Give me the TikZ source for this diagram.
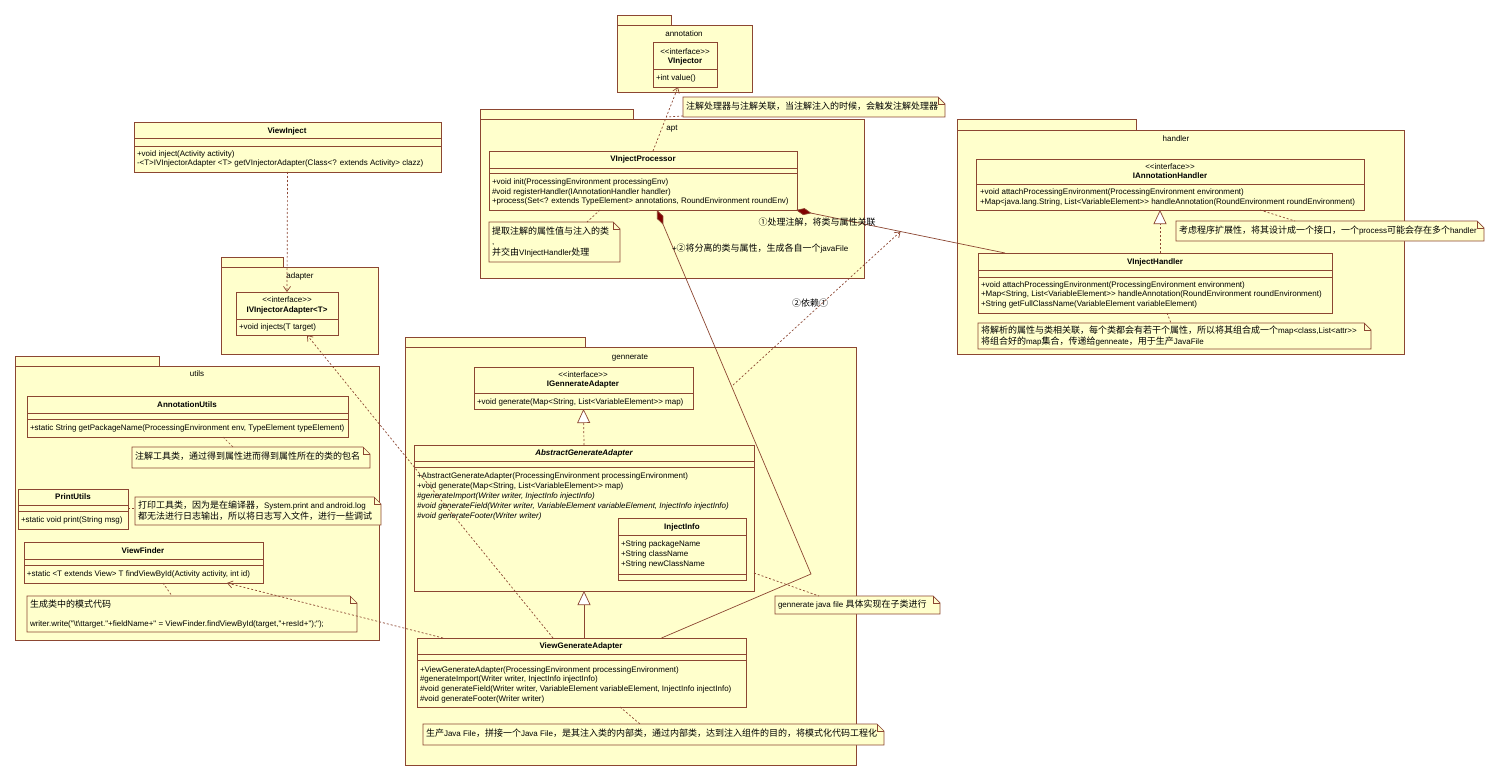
\documentclass[tikz,border=0pt]{standalone}
\usepackage{fontspec}
\newfontfamily\lsans{Liberation Sans}
\newfontfamily\cjk{Noto Sans CJK SC}
\usetikzlibrary{arrows.meta}
\definecolor{fc}{RGB}{255,255,204}
\definecolor{lc}{RGB}{140,70,50}
\definecolor{dc}{RGB}{128,0,0}
\newcommand\zh[1]{{\cjk\fontsize{9.0pt}{10pt}\selectfont #1}}
\newcommand\lfont{\lsans\fontsize{8.0pt}{9pt}\selectfont}
\tikzset{
 ln/.style={draw=lc, line width=0.7pt},
 cls/.style={ln, fill=fc, anchor=north west, inner sep=0pt, outer sep=0pt},
 txt/.style={inner sep=0pt, outer sep=0pt, anchor=west, font=\lfont, text height=6pt, text depth=1.5pt},
 ctr/.style={txt, anchor=center},
 ttl/.style={txt, anchor=center, font=\lfont\bfseries},
 ttli/.style={txt, anchor=center, font=\lfont\bfseries\itshape},
 itl/.style={txt, font=\lfont\itshape},
 dep/.style={ln, dash pattern=on 2pt off 2pt, -{Straight Barb[length=5pt,width=7pt]}},
 real/.style={ln, dash pattern=on 2pt off 2pt, -{Triangle[open,length=14pt,width=13pt,fill=white]}},
 gen/.style={ln, -{Triangle[open,length=14pt,width=13pt,fill=white]}},
 comp/.style={ln, {Diamond[length=16pt,width=7pt,fill=dc]}-},
 anc/.style={ln, dash pattern=on 2pt off 2pt},
}
\newcommand\klass[5]{\node[cls, minimum width={(#4-#2)*1pt}, minimum height={(#5-#3)*1pt}] (#1) at (#2,#3) {};}
\newcommand\ksep[2]{\draw[ln] ([yshift=-#2pt]#1.north west) -- ([yshift=-#2pt]#1.north east);}
\newcommand\unote[5]{%
 \node[inner sep=0pt, outer sep=0pt, anchor=north west, minimum width={(#4-#2)*1pt}, minimum height={(#5-#3)*1pt}] (#1) at (#2,#3) {};
 \draw[ln, fill=fc] (#1.north west) -- ([xshift=-7pt]#1.north east) -- ([yshift=-7pt]#1.north east) -- (#1.south east) -- (#1.south west) -- cycle;
 \draw[ln] ([xshift=-7pt]#1.north east) -- ([xshift=-7pt,yshift=-7pt]#1.north east) -- ([yshift=-7pt]#1.north east);}
\newcommand\upkg[7]{%
 \draw[ln, fill=fc] (#2,#3) rectangle (#4,#5);
 \node[cls, minimum width={(#6-#2)*1pt}, minimum height={(#7-#5)*1pt}] (#1) at (#2,#5) {};}
\begin{document}
\begin{tikzpicture}[x=1pt,y=-1pt]
\useasboundingbox (0,0) rectangle (1500,781);
\fill[white] (0,0) rectangle (1500,781);
% packages
\upkg{pann}{617}{15}{671}{25}{752}{92}
\node[ctr] (pann-l) at (684,34) {annotation};
\upkg{papt}{480}{109}{633}{119}{864}{278}
\node[ctr] (papt-l) at (672,128) {apt};
\upkg{phan}{957}{119}{1136}{130}{1404}{354}
\node[ctr] (phan-l) at (1176,139) {handler};
\upkg{padp}{221}{257}{283}{267}{378}{354}
\node[ctr] (padp-l) at (300,276) {adapter};
\upkg{puti}{15}{356}{159}{366}{379}{640}
\node[ctr] (puti-l) at (197,374) {utils};
\upkg{pgen}{405}{337}{585}{347}{856}{765}
\node[ctr] (pgen-l) at (630,357) {gennerate};
% VInjector
\klass{vinj}{653}{42}{717}{87}\ksep{vinj}{27}
\node[ctr] (vinj-s) at (685,52) {<{}<interface>{}>};
\node[ttl] (vinj-n) at (685,61) {VInjector};
\node[txt] (vinj-o1) at (656,78) {+int value()};
% VInjectProcessor
\klass{vip}{489}{151}{797}{210}\ksep{vip}{17}\ksep{vip}{22}
\node[ttl] (vip-n) at (643,159) {VInjectProcessor};
\node[txt] (vip-o1) at (492,182) {+void init(ProcessingEnvironment processingEnv)};
\node[txt] (vip-o2) at (492,192) {\#void registerHandler(IAnnotationHandler handler)};
\node[txt] (vip-o3) at (492,201) {+process(Set<? extends TypeElement> annotations, RoundEnvironment roundEnv)};
% IAnnotationHandler
\klass{iah}{976}{159}{1364}{210}\ksep{iah}{25}
\node[ctr] (iah-s) at (1170,167) {<{}<interface>{}>};
\node[ttl] (iah-n) at (1170,176) {IAnnotationHandler};
\node[txt] (iah-o1) at (980,192) {+void attachProcessingEnvironment(ProcessingEnvironment environment)};
\node[txt] (iah-o2) at (980,202) {+Map<java.lang.String, List<VariableElement>{}> handleAnnotation(RoundEnvironment roundEnvironment)};
% VInjectHandler
\klass{vih}{978}{253}{1332}{313}\ksep{vih}{17}\ksep{vih}{24}
\node[ttl] (vih-n) at (1155,262) {VInjectHandler};
\node[txt] (vih-o1) at (981,285) {+void attachProcessingEnvironment(ProcessingEnvironment environment)};
\node[txt] (vih-o2) at (981,294) {+Map<String, List<VariableElement>{}> handleAnnotation(RoundEnvironment roundEnvironment)};
\node[txt] (vih-o3) at (981,304) {+String getFullClassName(VariableElement variableElement)};
% ViewInject
\klass{vi}{134}{122}{441}{172}\ksep{vi}{16}\ksep{vi}{24}
\node[ttl] (vi-n) at (287,131) {ViewInject};
\node[txt] (vi-o1) at (137,154) {+void inject(Activity activity)};
\node[txt] (vi-o2) at (137,163) {-<T>IVInjectorAdapter <T> getVInjectorAdapter(Class<? extends Activity> clazz)};
% IVInjectorAdapter
\klass{iva}{236}{292}{338}{335}\ksep{iva}{27}
\node[ctr] (iva-s) at (287,300) {<{}<interface>{}>};
\node[ttl] (iva-n) at (287,310) {IVInjectorAdapter<T>};
\node[txt] (iva-o1) at (239,327) {+void injects(T target)};
% AnnotationUtils
\klass{au}{27}{396}{348}{437}\ksep{au}{17}\ksep{au}{23}
\node[ttl] (au-n) at (187,405) {AnnotationUtils};
\node[txt] (au-o1) at (30,428) {+static String getPackageName(ProcessingEnvironment env, TypeElement typeElement)};
% PrintUtils
\klass{pu}{18}{489}{128}{529}\ksep{pu}{16}\ksep{pu}{22}
\node[ttl] (pu-n) at (73,497) {PrintUtils};
\node[txt] (pu-o1) at (21,520) {+static void print(String msg)};
% ViewFinder
\klass{vf}{24}{542}{263}{583}\ksep{vf}{17}\ksep{vf}{23}
\node[ttl] (vf-n) at (143,551) {ViewFinder};
\node[txt] (vf-o1) at (27,574) {+static <T extends View> T findViewById(Activity activity, int id)};
% IGennerateAdapter
\klass{iga}{474}{367}{693}{409}\ksep{iga}{26}
\node[ctr] (iga-s) at (583,375) {<{}<interface>{}>};
\node[ttl] (iga-n) at (583,384) {IGennerateAdapter};
\node[txt] (iga-o1) at (477,402) {+void generate(Map<String, List<VariableElement>{}> map)};
% AbstractGenerateAdapter
\klass{aga}{414}{445}{754}{591}\ksep{aga}{16}\ksep{aga}{22}
\node[ttli] (aga-n) at (584,453) {AbstractGenerateAdapter};
\node[txt] (aga-o1) at (417,476) {+AbstractGenerateAdapter(ProcessingEnvironment processingEnvironment)};
\node[txt] (aga-o2) at (417,486) {+void generate(Map<String, List<VariableElement>{}> map)};
\node[itl] (aga-o3) at (417,496) {\#generateImport(Writer writer, InjectInfo injectInfo)};
\node[itl] (aga-o4) at (417,506) {\#void generateField(Writer writer, VariableElement variableElement, InjectInfo injectInfo)};
\node[itl] (aga-o5) at (417,516) {\#void generateFooter(Writer writer)};
% InjectInfo
\klass{ii}{618}{518}{746}{580}\ksep{ii}{17}\ksep{ii}{56}
\node[ttl] (ii-n) at (682,527) {InjectInfo};
\node[txt] (ii-a1) at (621,544) {+String packageName};
\node[txt] (ii-a2) at (621,554) {+String className};
\node[txt] (ii-a3) at (621,564) {+String newClassName};
% ViewGenerateAdapter
\klass{vga}{417}{638}{746}{707}\ksep{vga}{16}\ksep{vga}{22}
\node[ttl] (vga-n) at (581,646) {ViewGenerateAdapter};
\node[txt] (vga-o1) at (420,670) {+ViewGenerateAdapter(ProcessingEnvironment processingEnvironment)};
\node[txt] (vga-o2) at (420,679) {\#generateImport(Writer writer, InjectInfo injectInfo)};
\node[txt] (vga-o3) at (420,689) {\#void generateField(Writer writer, VariableElement variableElement, InjectInfo injectInfo)};
\node[txt] (vga-o4) at (420,699) {\#void generateFooter(Writer writer)};
% notes
\unote{n1}{683}{97}{945}{117}
\node[txt] (n1-t) at (686,107) {\zh{注解处理器与注解关联，当注解注入的时候，会触发注解处理器}};
\unote{n2}{489}{222}{620}{262}
\node[txt] (n2-t1) at (492,232) {\zh{提取注解的属性值与注入的类}};
\node[txt] (n2-t2) at (492,242) {,};
\node[txt] (n2-t3) at (492,253) {\zh{并交由}VInjectHandler\zh{处理}};
\unote{n3}{1176}{221}{1484}{241}
\node[txt] (n3-t) at (1179,231) {\zh{考虑程序扩展性，将其设计成一个接口，一个}process\zh{可能会存在多个}handler};
\unote{n4}{978}{323}{1371}{349}
\node[txt] (n4-t1) at (981,331) {\zh{将解析的属性与类相关联，每个类都会有若干个属性，所以将其组合成一个}map<class,List<attr>{}>};
\node[txt] (n4-t2) at (981,342) {\zh{将组合好的}map\zh{集合，传递给}genneate\zh{，用于生产}JavaFile};
\unote{n5}{132}{447}{370}{468}
\node[txt] (n5-t) at (135,457) {\zh{注解工具类，通过得到属性进而得到属性所在的类的包名}};
\unote{n6}{135}{497}{381}{525}
\node[txt] (n6-t1) at (138,506) {\zh{打印工具类，因为是在编译器，}System.print and android.log};
\node[txt] (n6-t2) at (138,517) {\zh{都无法进行日志输出，所以将日志写入文件，进行一些调试}};
\unote{n7}{27}{596}{357}{632}
\node[txt] (n7-t1) at (30,605) {\zh{生成类中的模式代码}};
\node[txt] (n7-t2) at (30,624) {writer.write("\textbackslash t\textbackslash ttarget."+fieldName+" = ViewFinder.findViewById(target,"+resId+");");};
\unote{n8}{775}{596}{940}{614}
\node[txt] (n8-t) at (778,605) {gennerate java file \zh{具体实现在子类进行}};
\unote{n9}{423}{724}{884}{745}
\node[txt] (n9-t) at (426,734) {\zh{生产}Java File\zh{，拼接一个}Java File\zh{，是其注入类的内部类，通过内部类，达到注入组件的目的，将模式化代码工程化}};
% connectors
\draw[dep] ([xshift=10pt]vip.north) -- coordinate[pos=0.53] (d1m) ([xshift=-7pt]vinj.south);
\draw[anc] ([yshift=1pt]n1.south west) -- (d1m);
\draw[comp] ([xshift=-1pt]vip.south east) -- coordinate[pos=0.5] (a1m) ([xshift=27pt]vih.north west);
\coordinate (bnd) at (811,574);
\draw[comp] ([xshift=14pt]vip.south) -- (bnd) -- ([xshift=80pt]vga.north);
\coordinate (d2s) at (733,385);
\draw[dep] (d2s) -- (a1m);
\draw[real] ([xshift=5pt]vih.north) -- ([xshift=-10pt]iah.south);
\draw[real] (aga.north) -- (iga.south);
\draw[gen] ([xshift=2.5pt]vga.north) -- (aga.south);
\draw[dep] (vi.south) -- (iva.north);
\draw[dep] ([xshift=26pt]vga.north west) -- ([xshift=-36pt]vf.south east);
\draw[dep] ([xshift=-28.5pt]vga.north) -- ([xshift=20pt]iva.south);
\draw[anc] ([xshift=-43pt]vip.south) -- ([xshift=98pt]n2.north west);
\draw[anc] ([xshift=90pt]iah.south) -- ([xshift=119pt]n3.north west);
\draw[anc] ([xshift=12pt]vih.south) -- ([xshift=193pt]n4.north west);
\draw[anc] ([xshift=35.5pt]au.south) -- ([xshift=101pt]n5.north west);
\draw[anc] ([yshift=1pt]pu.east) -- ([yshift=3pt]n6.west);
\draw[anc] ([xshift=19.5pt]vf.south) -- ([xshift=145pt]n7.north west);
\draw[anc] ([yshift=18pt]aga.south east) -- ([xshift=44pt]n8.north west);
\draw[anc] ([xshift=38.5pt]vga.south) -- ([xshift=217pt]n9.north west);
% labels
\node[ctr] (l1) at (817,223) {\zh{①处理注解，将类与属性关联}};
\node[txt] (l2) at (672,249) {+\zh{②将分离的类与属性，生成各自一个}javaFile};
\node[ctr] (l3) at (810,304) {\zh{②依赖①}};
\end{tikzpicture}
\end{document}
